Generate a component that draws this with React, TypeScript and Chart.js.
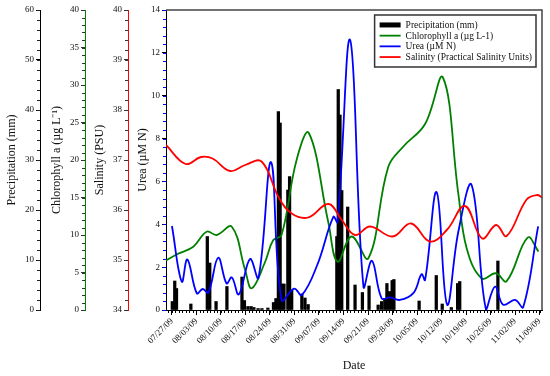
import React, { useEffect, useRef } from "react";
import { Chart, registerables } from "chart.js";

Chart.register(...registerables);

const FONT = "'Liberation Serif', 'Times New Roman', serif";

// x values are days after 07/27/09
const TICK_LABELS = [
  "07/27/09", "08/03/09", "08/10/09", "08/17/09", "08/24/09", "08/31/09", "09/07/09", "09/14/09",
  "09/21/09", "09/28/09", "10/05/09", "10/12/09", "10/19/09", "10/26/09", "11/02/09", "11/09/09",
];
const TICK_DAYS = [0, 7, 14, 21, 28, 35, 42, 49, 56, 63, 70, 77, 84, 91, 98, 105];

const PRECIP_DAYS = [
  0.1, 0.8, 1.3, 5.4, 10.1, 10.8, 12.6, 15.7, 20, 20.7, 21.7, 22.6, 23.4, 24.6, 25.7, 27.4,
  29, 29.7, 30.4, 30.9, 31.4, 32, 33.1, 33.6, 34.2, 37.1, 38, 38.9, 47.1, 47.5, 48, 48.5,
  50.2, 52.3, 54.4, 56.3, 58.9, 59.9, 60.8, 61.4, 62.1, 62.9, 63.4, 70.6, 75.5, 77.2, 79.8,
  81.6, 82.2, 93.1,
];
const PRECIP_MM = [
  1.7, 5.8, 4.3, 1.2, 14.7, 9.4, 1.7, 4.7, 6.6, 1.9, 0.7, 0.7, 0.5, 0.3, 0.3, 0.4,
  1.5, 2.3, 39.7, 37.4, 5.2, 5.2, 24, 26.7, 4, 3.2, 2.4, 1.1, 14.7, 44.1, 39, 23.9,
  20.6, 5, 3.5, 4.8, 1, 1.7, 2.3, 5.3, 3.7, 5.9, 6.1, 1.8, 6.9, 1.2, 0.5,
  5.3, 5.7, 9.8,
];

const CHL_DAYS = [
  -1.7, 1.3, 6.1, 9.9, 12.8, 17.1, 20.9, 22.8, 26.6, 28.9, 31.3, 35.6, 39.1, 44.7, 47.3,
  51.3, 56.1, 61.8, 66.1, 72.3, 77.4, 81.8, 84.2, 88.5, 92.5, 95.6, 101.6, 104.7,
];
const CHL_VALUES = [
  6.6, 7.4, 8.44, 10.44, 10.0, 11.1, 5.33, 2.9, 6.4, 9.3, 10.0, 20, 23.6, 11.6, 6.44,
  9.8, 6.9, 19.1, 21.8, 24.8, 31.0, 15.5, 8.2, 4.2, 4.9, 3.85, 9.65, 7.8,
];

const UREA_DAYS = [
  0, 2.8, 4.4, 7.1, 8.8, 10.4, 13.2, 15.6, 17.1, 19.1, 22.3, 24.7, 28.3, 31.3, 34.9, 37.1,
  41.5, 46.1, 47.3, 50.9, 54.7, 57.1, 59.9, 62.3, 65.1, 69, 71.3, 72.3, 75.6, 78.6, 81.8,
  85.6, 89.7, 92.3, 94.6, 98, 100.3, 104.6,
];
const UREA_VALUES = [
  3.92, 1.32, 2.36, 0.78, 0.98, 0.81, 2.44, 1.24, 1.52, 0.73, 2.38, 1.5, 6.9, 0.47, 1.0, 0.7,
  2.1, 4.35, 4.1, 12.6, 1.09, 2.3, 0.54, 0.59, 0.47, 0.8, 1.67, 1.4, 5.5, 0.25, 3.65,
  5.83, 0.02, 1.09, 0.25, 0.47, 0.12, 3.9,
];

const SAL_DAYS = [
  -1.7, 3.9, 8.3, 11.6, 16.6, 20.9, 25.6, 30.5, 34.2, 38.9, 44.7, 48.5, 52.3, 56.6, 63,
  68.3, 73.7, 78.5, 83.7, 88.6, 92.6, 95.6, 101.3, 104.3, 105.7,
];
const SAL_VALUES = [
  37.3, 36.92, 37.06, 37.03, 36.78, 36.9, 36.97, 36.25, 35.93, 35.85, 36.12, 35.8, 35.5, 35.67, 35.47,
  35.73, 35.37, 35.6, 36.08, 35.43, 35.7, 35.48, 36.21, 36.3, 36.25,
];

const X_MIN = -1.7;
const X_MAX = 105.7;

const MINOR_STEPS: Record<string, { step: number; color: string }> = {
  x: { step: 1, color: "#000" },
  yPrecip: { step: 2, color: "#222" },
  yChl: { step: 1, color: "#333" },
  ySal: { step: 0.2, color: "#333" },
  yUrea: { step: 0.4, color: "#0000ff" },
};

const minorTicksPlugin = {
  id: "minorTicks",
  afterDraw(chart: any) {
    const ctx = chart.ctx;
    ctx.save();
    ctx.lineWidth = 1;
    Object.keys(MINOR_STEPS).forEach((id) => {
      const s = chart.scales[id];
      if (!s) return;
      const { step, color } = MINOR_STEPS[id];
      ctx.strokeStyle = color;
      const start = Math.ceil(s.min / step - 1e-6);
      const end = Math.floor(s.max / step + 1e-6);
      ctx.beginPath();
      for (let k = start; k <= end; k++) {
        const v = k * step;
        const p = Math.round(s.getPixelForValue(v)) + 0.5;
        if (s.isHorizontal()) {
          ctx.moveTo(p, s.top);
          ctx.lineTo(p, s.top + 3);
        } else {
          ctx.moveTo(s.right, p);
          ctx.lineTo(s.right - 3, p);
        }
      }
      ctx.stroke();
    });
    ctx.restore();
  },
};

const framePlugin = {
  id: "frameAndLegend",
  afterDatasetsDraw(chart: any) {
    const { ctx, chartArea } = chart;
    ctx.save();
    // frame top & right
    ctx.strokeStyle = "#444";
    ctx.lineWidth = 1.5;
    ctx.beginPath();
    ctx.moveTo(chartArea.left, chartArea.top);
    ctx.lineTo(chartArea.right, chartArea.top);
    ctx.lineTo(chartArea.right, chartArea.bottom);
    ctx.stroke();

    // legend box
    ctx.font = `9.5px ${FONT}`;
    const ds = chart.data.datasets;
    const textW = Math.max(...ds.map((d: any) => ctx.measureText(d.label).width));
    const lineLen = 21, gap = 5, padL = 5, padR = 4, rowH = 10.7, padT = 4.6;
    const w = padL + lineLen + gap + textW + padR;
    const h = padT * 2 + rowH * ds.length;
    const right = chartArea.right - 6;
    const x0 = right - w;
    const y0 = chartArea.top + 5;
    ctx.fillStyle = "#fff";
    ctx.fillRect(x0, y0, w, h);
    ctx.strokeStyle = "#333";
    ctx.lineWidth = 1.5;
    ctx.strokeRect(x0, y0, w, h);
    ds.forEach((d: any, i: number) => {
      const cy = y0 + padT + rowH * (i + 0.5);
      if (d.type === "bar") {
        ctx.fillStyle = "#000";
        ctx.fillRect(x0 + padL, cy - 2.5, lineLen, 5);
      } else {
        ctx.strokeStyle = d.borderColor;
        ctx.lineWidth = 1.8;
        ctx.beginPath();
        ctx.moveTo(x0 + padL, cy);
        ctx.lineTo(x0 + padL + lineLen, cy);
        ctx.stroke();
      }
      ctx.fillStyle = "#111";
      ctx.textBaseline = "middle";
      ctx.textAlign = "left";
      ctx.fillText(d.label, x0 + padL + lineLen + gap, cy + 0.5);
    });
    ctx.restore();
  },
};

const tickFont = { family: FONT, size: 9 };
const titleFont = { family: FONT, size: 12 };

function yAxis(opts: {
  weight: number; min: number; max: number; step: number; title: string;
  width: number; titlePad: number; borderColor: string; tickColor: string;
}) {
  return {
    type: "linear",
    position: "left",
    weight: opts.weight,
    min: opts.min,
    max: opts.max,
    afterFit: (s: any) => { s.width = opts.width; },
    grid: { display: true, drawOnChartArea: false, drawTicks: true, tickLength: 4, color: opts.tickColor },
    border: { display: true, color: opts.borderColor, width: 1 },
    ticks: { stepSize: opts.step, padding: 2, font: tickFont, color: "#111" },
    title: { display: true, text: opts.title, font: titleFont, color: "#111", padding: { top: opts.titlePad, bottom: 0 } },
  };
}

export default function App() {
  const ref = useRef<HTMLCanvasElement>(null);

  useEffect(() => {
    const chart = new Chart(ref.current as HTMLCanvasElement, {
      type: "line",
      data: {
        datasets: [
          {
            type: "bar",
            label: "Precipitation (mm)",
            data: PRECIP_DAYS.map((d, i) => ({ x: d, y: PRECIP_MM[i] })),
            backgroundColor: "#000",
            borderWidth: 0,
            barThickness: 2.6,
            yAxisID: "yPrecip",
            xAxisID: "x",
            order: 5,
          },
          {
            type: "line",
            label: "Chlorophyll a (µg L-1)",
            data: CHL_DAYS.map((d, i) => ({ x: d, y: CHL_VALUES[i] })),
            borderColor: "#008000",
            borderWidth: 1.8,
            pointRadius: 0,
            tension: 0.4,
            yAxisID: "yChl",
            xAxisID: "x",
            order: 3,
          },
          {
            type: "line",
            label: "Urea (µM N)",
            data: UREA_DAYS.map((d, i) => ({ x: d, y: UREA_VALUES[i] })),
            borderColor: "#0000ff",
            borderWidth: 1.8,
            pointRadius: 0,
            tension: 0.4,
            yAxisID: "yUrea",
            xAxisID: "x",
            order: 2,
          },
          {
            type: "line",
            label: "Salinity (Practical Salinity Units)",
            data: SAL_DAYS.map((d, i) => ({ x: d, y: SAL_VALUES[i] })),
            borderColor: "#ff0000",
            borderWidth: 1.8,
            pointRadius: 0,
            tension: 0.4,
            yAxisID: "ySal",
            xAxisID: "x",
            order: 1,
          },
        ] as any,
      },
      options: {
        animation: false,
        responsive: false,
        layout: { padding: { top: 10, right: 8, left: 0, bottom: 0 } },
        plugins: { legend: { display: false }, tooltip: { enabled: false } },
        scales: {
          x: {
            type: "linear",
            min: X_MIN,
            max: X_MAX,
            offset: false,
            afterBuildTicks: (s: any) => { s.ticks = TICK_DAYS.map((v) => ({ value: v })); },
            afterFit: (s: any) => { s.height = 66; },
            grid: { display: true, drawOnChartArea: false, drawTicks: true, tickLength: 5, color: "#000", offset: false },
            border: { display: true, color: "#000", width: 1 },
            ticks: {
              autoSkip: false,
              maxRotation: 45,
              minRotation: 45,
              padding: 1,
              font: tickFont,
              color: "#111",
              callback: (_v: any, i: number) => TICK_LABELS[i],
            },
            title: { display: true, text: "Date", font: titleFont, color: "#111", padding: { top: 0, bottom: 3 } },
          },
          yUrea: yAxis({ weight: 0, min: 0, max: 14, step: 2, title: "Urea (µM N)", width: 38, titlePad: 7.5, borderColor: "#000", tickColor: "#000" }),
          ySal: yAxis({ weight: 1, min: 34, max: 40, step: 1, title: "Salinity (PSU)", width: 43, titlePad: 8, borderColor: "#ff0000", tickColor: "#333" }),
          yChl: yAxis({ weight: 2, min: 0, max: 40, step: 5, title: "Chlorophyll a (µg L\u207B\u00B9)", width: 45, titlePad: 9.5, borderColor: "#008000", tickColor: "#333" }),
          yPrecip: yAxis({ weight: 3, min: 0, max: 60, step: 10, title: "Precipitation (mm)", width: 40, titlePad: 5, borderColor: "#000", tickColor: "#000" }),
        } as any,
      },
      plugins: [minorTicksPlugin, framePlugin],
    });
    return () => chart.destroy();
  }, []);

  return (
    <div style={{ position: "fixed", left: 0, top: 0, width: 550, height: 376, background: "#fff" }}>
      <canvas ref={ref} width={550} height={376} style={{ display: "block" }} />
    </div>
  );
}
